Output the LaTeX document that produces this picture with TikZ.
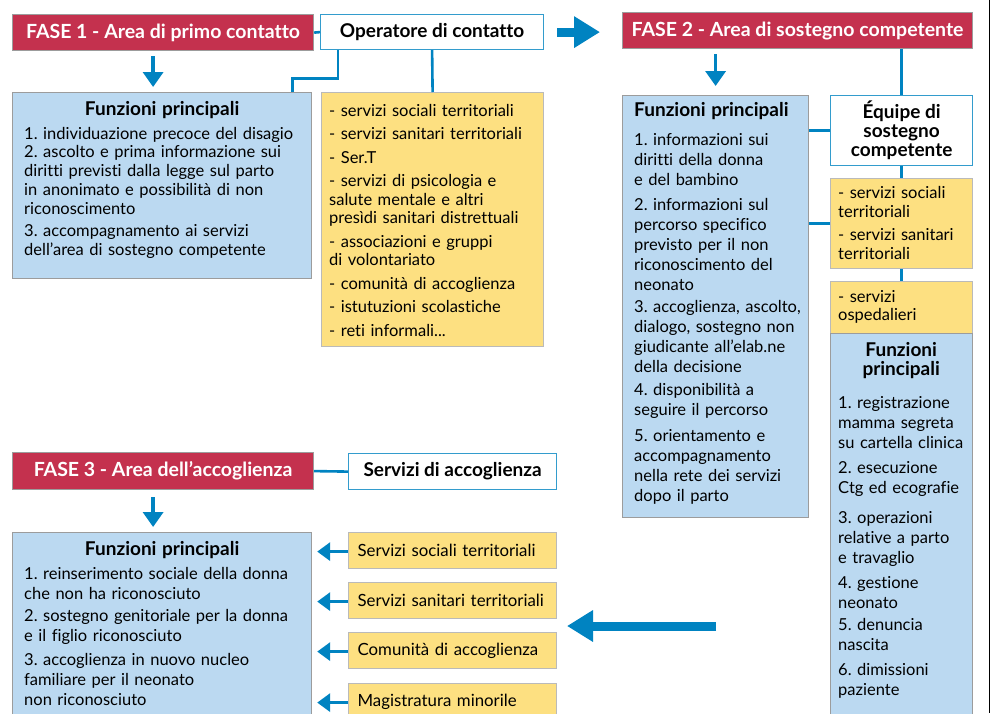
\documentclass[tikz,border=0pt]{standalone}
\usepackage{fontspec}
\setmainfont{Lato}[Ligatures=NoCommon]
\usetikzlibrary{arrows.meta,positioning}

\definecolor{faserosso}{HTML}{C4314E}
\definecolor{azzurro}{HTML}{BBD9F1}
\definecolor{giallo}{HTML}{FDE081}
\definecolor{blulinea}{HTML}{0083C1}
\definecolor{bordo}{HTML}{9C9C9C}

\tikzset{
  fasebox/.style={draw=bordo,line width=1.2pt,fill=faserosso,text=white,
    font=\fontsize{19.5}{22}\selectfont\bfseries,anchor=north west},
  whitebox/.style={draw=blulinea!80,line width=1.2pt,fill=white,
    font=\fontsize{19}{19}\selectfont\bfseries,anchor=north west},
  bluebox/.style={draw=bordo,line width=1.2pt,fill=azzurro,anchor=north west},
  yellowbox/.style={draw=bordo!70,line width=1.2pt,fill=giallo,anchor=north west},
  boxtext/.style={inner sep=0pt,anchor=north west,align=left,
    font=\fontsize{16.5}{19.5}\selectfont},
  link/.style={draw=blulinea,line width=2.6pt},
  downarrow/.style={draw=blulinea,line width=3.5pt,
    -{Triangle[length=15pt,width=20pt]},shorten <=5pt,shorten >=5pt},
  sidearrow/.style={draw=blulinea,line width=3.5pt,
    -{Triangle[length=13pt,width=18pt]},shorten >=5pt},
  bigarrow/.style={draw=blulinea,line width=9pt,
    -{Triangle[length=26pt,width=30pt]}}
}
\newcommand{\grassetto}[1]{{\fontsize{19}{20}\selectfont\bfseries #1}}
\newcommand{\titolo}[1]{\makebox[\linewidth]{\grassetto{#1}}}

\begin{document}
\frenchspacing
\begin{tikzpicture}[x=1pt,y=-1pt]
\useasboundingbox (0,0) rectangle (992,713);
\clip (0,0) rectangle (992,713);

% FASE 1
\node[fasebox,minimum width=301pt,minimum height=36pt] (fase1) at (12,14)
  {FASE 1 - Area di primo contatto};
\node[whitebox,minimum width=223pt,minimum height=35pt] (oper) at (320,14)
  {Operatore di contatto};
\node[bluebox,minimum width=299pt,minimum height=186pt] (fun1) at (12,92) {};
\node[yellowbox,minimum width=222pt,minimum height=254pt] (yel1) at (321,92) {};

\node[boxtext,text width=276pt,font=\fontsize{16.5}{19}\selectfont] (fun1txt) at (24,101) {%
  \titolo{Funzioni principali}\\[5pt]
  1. individuazione precoce del disagio\\[-1pt]
  2. ascolto e prima informazione sui\\
  diritti previsti dalla legge sul parto\\
  in anonimato e possibilità di non\\
  riconoscimento\\[3pt]
  3. accompagnamento ai servizi\\
  dell’area di sostegno competente};
\node[boxtext,text width=210pt] (yel1txt) at (329,104) {%
  - servizi sociali territoriali\\[4pt]
  - servizi sanitari territoriali\\[4pt]
  - Ser.T\\[4pt]
  - servizi di psicologia e\\[-1pt]
  salute mentale e altri\\[-1pt]
  presìdi sanitari distrettuali\\[4pt]
  - associazioni e gruppi\\[-1pt]
  di volontariato\\[4pt]
  - comunità di accoglienza\\[4pt]
  - istutuzioni scolastiche\\[4pt]
  - reti informali...};

\draw[link] (fase1.east) -- (oper.west);
\draw[link] ([xshift=18pt]oper.south west) -- ++(0,28) -| ([xshift=-20pt]fun1.north east);
\draw[link] (oper.south) -- (yel1.north);
\draw[downarrow] ([xshift=-10pt]fase1.south) -- ([xshift=-10pt]fase1.south |- fun1.north);

% FASE 2
\node[fasebox,minimum width=350pt,minimum height=36pt] (fase2) at (622,12)
  {FASE 2 - Area di sostegno competente};
\draw[bigarrow,shorten <=13pt,shorten >=22pt] (oper.east) -- (oper.east -| fase2.west);

\node[bluebox,minimum width=186pt,minimum height=422pt] (fun2) at (622,95) {};
\node[whitebox,minimum width=142pt,minimum height=70pt,align=center] (equipe) at (830,95)
  {Équipe di\\sostegno\\competente};
\node[yellowbox,minimum width=142pt,minimum height=90pt] (yel2) at (830,178) {};
\node[yellowbox,minimum width=142pt,minimum height=52pt] (yel3) at (830,281) {};
\node[bluebox,minimum width=142pt,minimum height=390pt] (fun3) at (830,333) {};

\node[boxtext,text width=172pt,font=\fontsize{16.5}{20}\selectfont] (fun2txt) at (634,102) {%
  \grassetto{Funzioni principali}\\[9pt]
  1. informazioni sui\\
  diritti della donna\\
  e del bambino\\[5pt]
  2. informazioni sul\\
  percorso specifico\\
  previsto per il non\\
  riconoscimento del\\
  neonato\\[2pt]
  3. accoglienza, ascolto,\\
  dialogo, sostegno non\\
  giudicante all’elab.ne\\
  della decisione\\[3pt]
  4. disponibilità a\\
  seguire il percorso\\[6pt]
  5. orientamento e\\
  accompagnamento\\
  nella rete dei servizi\\
  dopo il parto};
\node[boxtext,text width=130pt] (yel2txt) at (838,186) {%
  - servizi sociali\\
  territoriali\\[3pt]
  - servizi sanitari\\
  territoriali};
\node[boxtext,text width=130pt,font=\fontsize{16.5}{18.5}\selectfont] (yel3txt) at (838,290) {%
  - servizi\\
  ospedalieri};
\node[boxtext,text width=126pt,font=\fontsize{16.5}{20}\selectfont] (fun3txt) at (838,342) {%
  \titolo{Funzioni}\\[-1pt]
  \titolo{principali}\\[13pt]
  1. registrazione\\
  mamma segreta\\
  su cartella clinica\\[5pt]
  2. esecuzione\\
  Ctg ed ecografie\\[10pt]
  3. operazioni\\
  relative a parto\\
  e travaglio\\[5pt]
  4. gestione\\
  neonato\\[2pt]
  5. denuncia\\
  nascita\\[5pt]
  6. dimissioni\\
  paziente};

\draw[link] (fase2.south -| equipe.north) -- (equipe.north);
\draw[downarrow,shorten >=9pt] (fun2.north |- fase2.south) -- (fun2.north);
\draw[link] (equipe.west) -- (equipe.west -| fun2.east);
\draw[link] (yel2.west) -- (yel2.west -| fun2.east);
\draw[link] (equipe.south) -- (yel2.north);
\draw[link] (yel2.south) -- (yel3.north);

% FASE 3
\node[fasebox,minimum width=301pt,minimum height=37pt] (fase3) at (12,452)
  {FASE 3 - Area dell’accoglienza};
\node[whitebox,minimum width=208pt,minimum height=36pt] (serv) at (348,453)
  {Servizi di accoglienza};
\node[bluebox,minimum width=299pt,minimum height=200pt] (fun4) at (12,532) {};
\node[boxtext,text width=276pt,font=\fontsize{16.5}{20}\selectfont] (fun4txt) at (24,541) {%
  \titolo{Funzioni principali}\\[4pt]
  1. reinserimento sociale della donna\\
  che non ha riconosciuto\\[2pt]
  2. sostegno genitoriale per la donna\\
  e il figlio riconosciuto\\[4pt]
  3. accoglienza in nuovo nucleo\\
  familiare per il neonato\\
  non riconosciuto};

\foreach \nome/\y/\testo in {ys1/532/Servizi sociali territoriali,
    ys2/582/Servizi sanitari territoriali,
    ys3/632/Comunità di accoglienza,
    ys4/683/Magistratura minorile}{
  \node[yellowbox,minimum width=208pt,minimum height=36pt,
    font=\fontsize{16.8}{18}\selectfont,text width=190pt,align=left] (\nome) at (348,\y) {\testo};
  \draw[sidearrow] ([yshift=-1pt]\nome.west) -- ([yshift=-1pt]\nome.west -| fun4.east);
}

\draw[link] (fase3.east) -- (serv.west);
\draw[downarrow,shorten <=7pt] ([xshift=-10pt]fase3.south) -- ([xshift=-10pt]fase3.south |- fun4.north);

\coordinate (bigstart) at (716,626);
\coordinate (bigend) at (567,626);
\draw[bigarrow] (bigstart) -- (bigend);

\draw[line width=1pt] (989,0) -- (989,713);
\end{tikzpicture}
\end{document}
